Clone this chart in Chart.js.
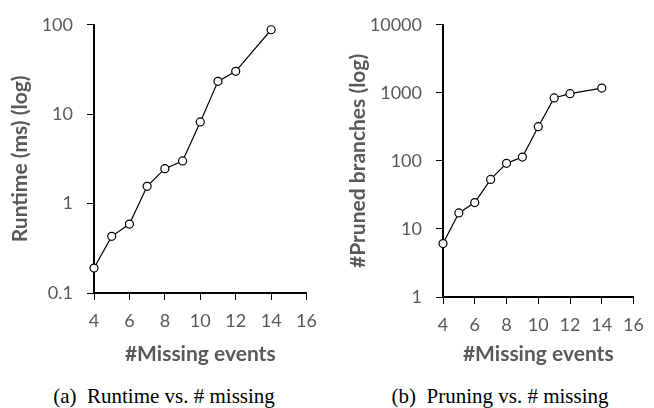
<!DOCTYPE html>
<html>
<head>
<meta charset="utf-8">
<script src="https://cdn.jsdelivr.net/npm/chart.js@4/dist/chart.umd.min.js"></script>
<style>
  html, body { margin: 0; padding: 0; background: #fff; }
  body { width: 654px; height: 408px; position: relative; overflow: hidden; }
  .wrap { position: absolute; top: 0; width: 327px; height: 370px; }
  .cap { position: absolute; font-family: "Liberation Serif", serif; font-size: 21px; color: #000; white-space: pre; transform: translateX(-50%); top: 384px; }
</style>
</head>
<body>
<div class="wrap" style="left:0"><canvas id="c1" width="327" height="370"></canvas></div>
<div class="wrap" style="left:327px"><canvas id="c2" width="327" height="370"></canvas></div>
<div class="cap" style="left:164px">(a)  Runtime vs. # missing</div>
<div class="cap" style="left:500px">(b)  Pruning vs. # missing</div>
<script>
// ---- data ----
const missingEvents = [4, 5, 6, 7, 8, 9, 10, 11, 12, 14];
const runtimeMs = [0.19, 0.43, 0.59, 1.56, 2.46, 3.0, 8.2, 23.3, 30.2, 88];
const prunedBranches = [6.1, 17.2, 24.4, 53.5, 92, 114, 318, 842, 973, 1175];
const xTicks = [4, 6, 8, 10, 12, 14, 16];
const yTicksRuntime = [0.1, 1, 10, 100];
const yTicksPruned = [1, 10, 100, 1000, 10000];
const xTitle = '#Missing events';
const yTitleRuntime = 'Runtime (ms) (log)';
const yTitlePruned = '#Pruned branches (log)';

const GRAY = '#595959';
const tickFont = { family: 'Lato', size: 18 };
const titleFont = { family: 'Lato', size: 21, weight: 'bold' };

function makeChart(id, ys, yTicks, yTitle, opts) {
  const pts = missingEvents.map((x, i) => ({ x: x, y: ys[i] }));
  return new Chart(document.getElementById(id), {
    type: 'line',
    data: { datasets: [{
      data: pts,
      borderColor: '#000', borderWidth: 1.2,
      pointRadius: 4, pointHoverRadius: 4,
      pointBackgroundColor: '#fff', pointBorderColor: '#000', pointBorderWidth: 1.2,
      tension: 0, clip: false
    }] },
    options: {
      responsive: false, animation: false,
      layout: { padding: { top: opts.top, right: opts.right, bottom: 0, left: 0 } },
      plugins: { legend: { display: false }, tooltip: { enabled: false } },
      scales: {
        x: {
          type: 'linear', min: xTicks[0], max: xTicks[xTicks.length - 1],
          afterBuildTicks: s => { s.ticks = xTicks.map(v => ({ value: v })); },
          afterFit: s => { s.height = opts.xh; },
          ticks: { font: tickFont, color: GRAY, padding: 10, maxRotation: 0, autoSkip: false },
          grid: { drawOnChartArea: false, drawTicks: true, tickLength: 7, color: '#000', lineWidth: 1 },
          border: { display: true, color: '#000', width: 2 },
          title: { display: true, text: xTitle, font: titleFont, color: GRAY, padding: { top: 0, bottom: opts.xtp } }
        },
        y: {
          type: 'logarithmic', min: yTicks[0], max: yTicks[yTicks.length - 1],
          afterBuildTicks: s => { s.ticks = yTicks.map(v => ({ value: v })); },
          afterFit: s => { s.width = opts.yw; },
          ticks: { font: tickFont, color: GRAY, padding: 14, autoSkip: false,
                   callback: v => String(v) },
          grid: { drawOnChartArea: false, drawTicks: true, tickLength: 7, color: '#000', lineWidth: 1 },
          border: { display: true, color: '#000', width: 2 },
          title: { display: true, text: yTitle, font: titleFont, color: GRAY, padding: { top: opts.ytp, bottom: 0 } }
        }
      }
    }
  });
}

makeChart('c1', runtimeMs, yTicksRuntime, yTitleRuntime, { top: 11, right: 19, xh: 77, yw: 94, xtp: 3, ytp: 8 });
makeChart('c2', prunedBranches, yTicksPruned, yTitlePruned, { top: 23, right: 11, xh: 73, yw: 116, xtp: 3, ytp: 19 });
</script>
</body>
</html>
